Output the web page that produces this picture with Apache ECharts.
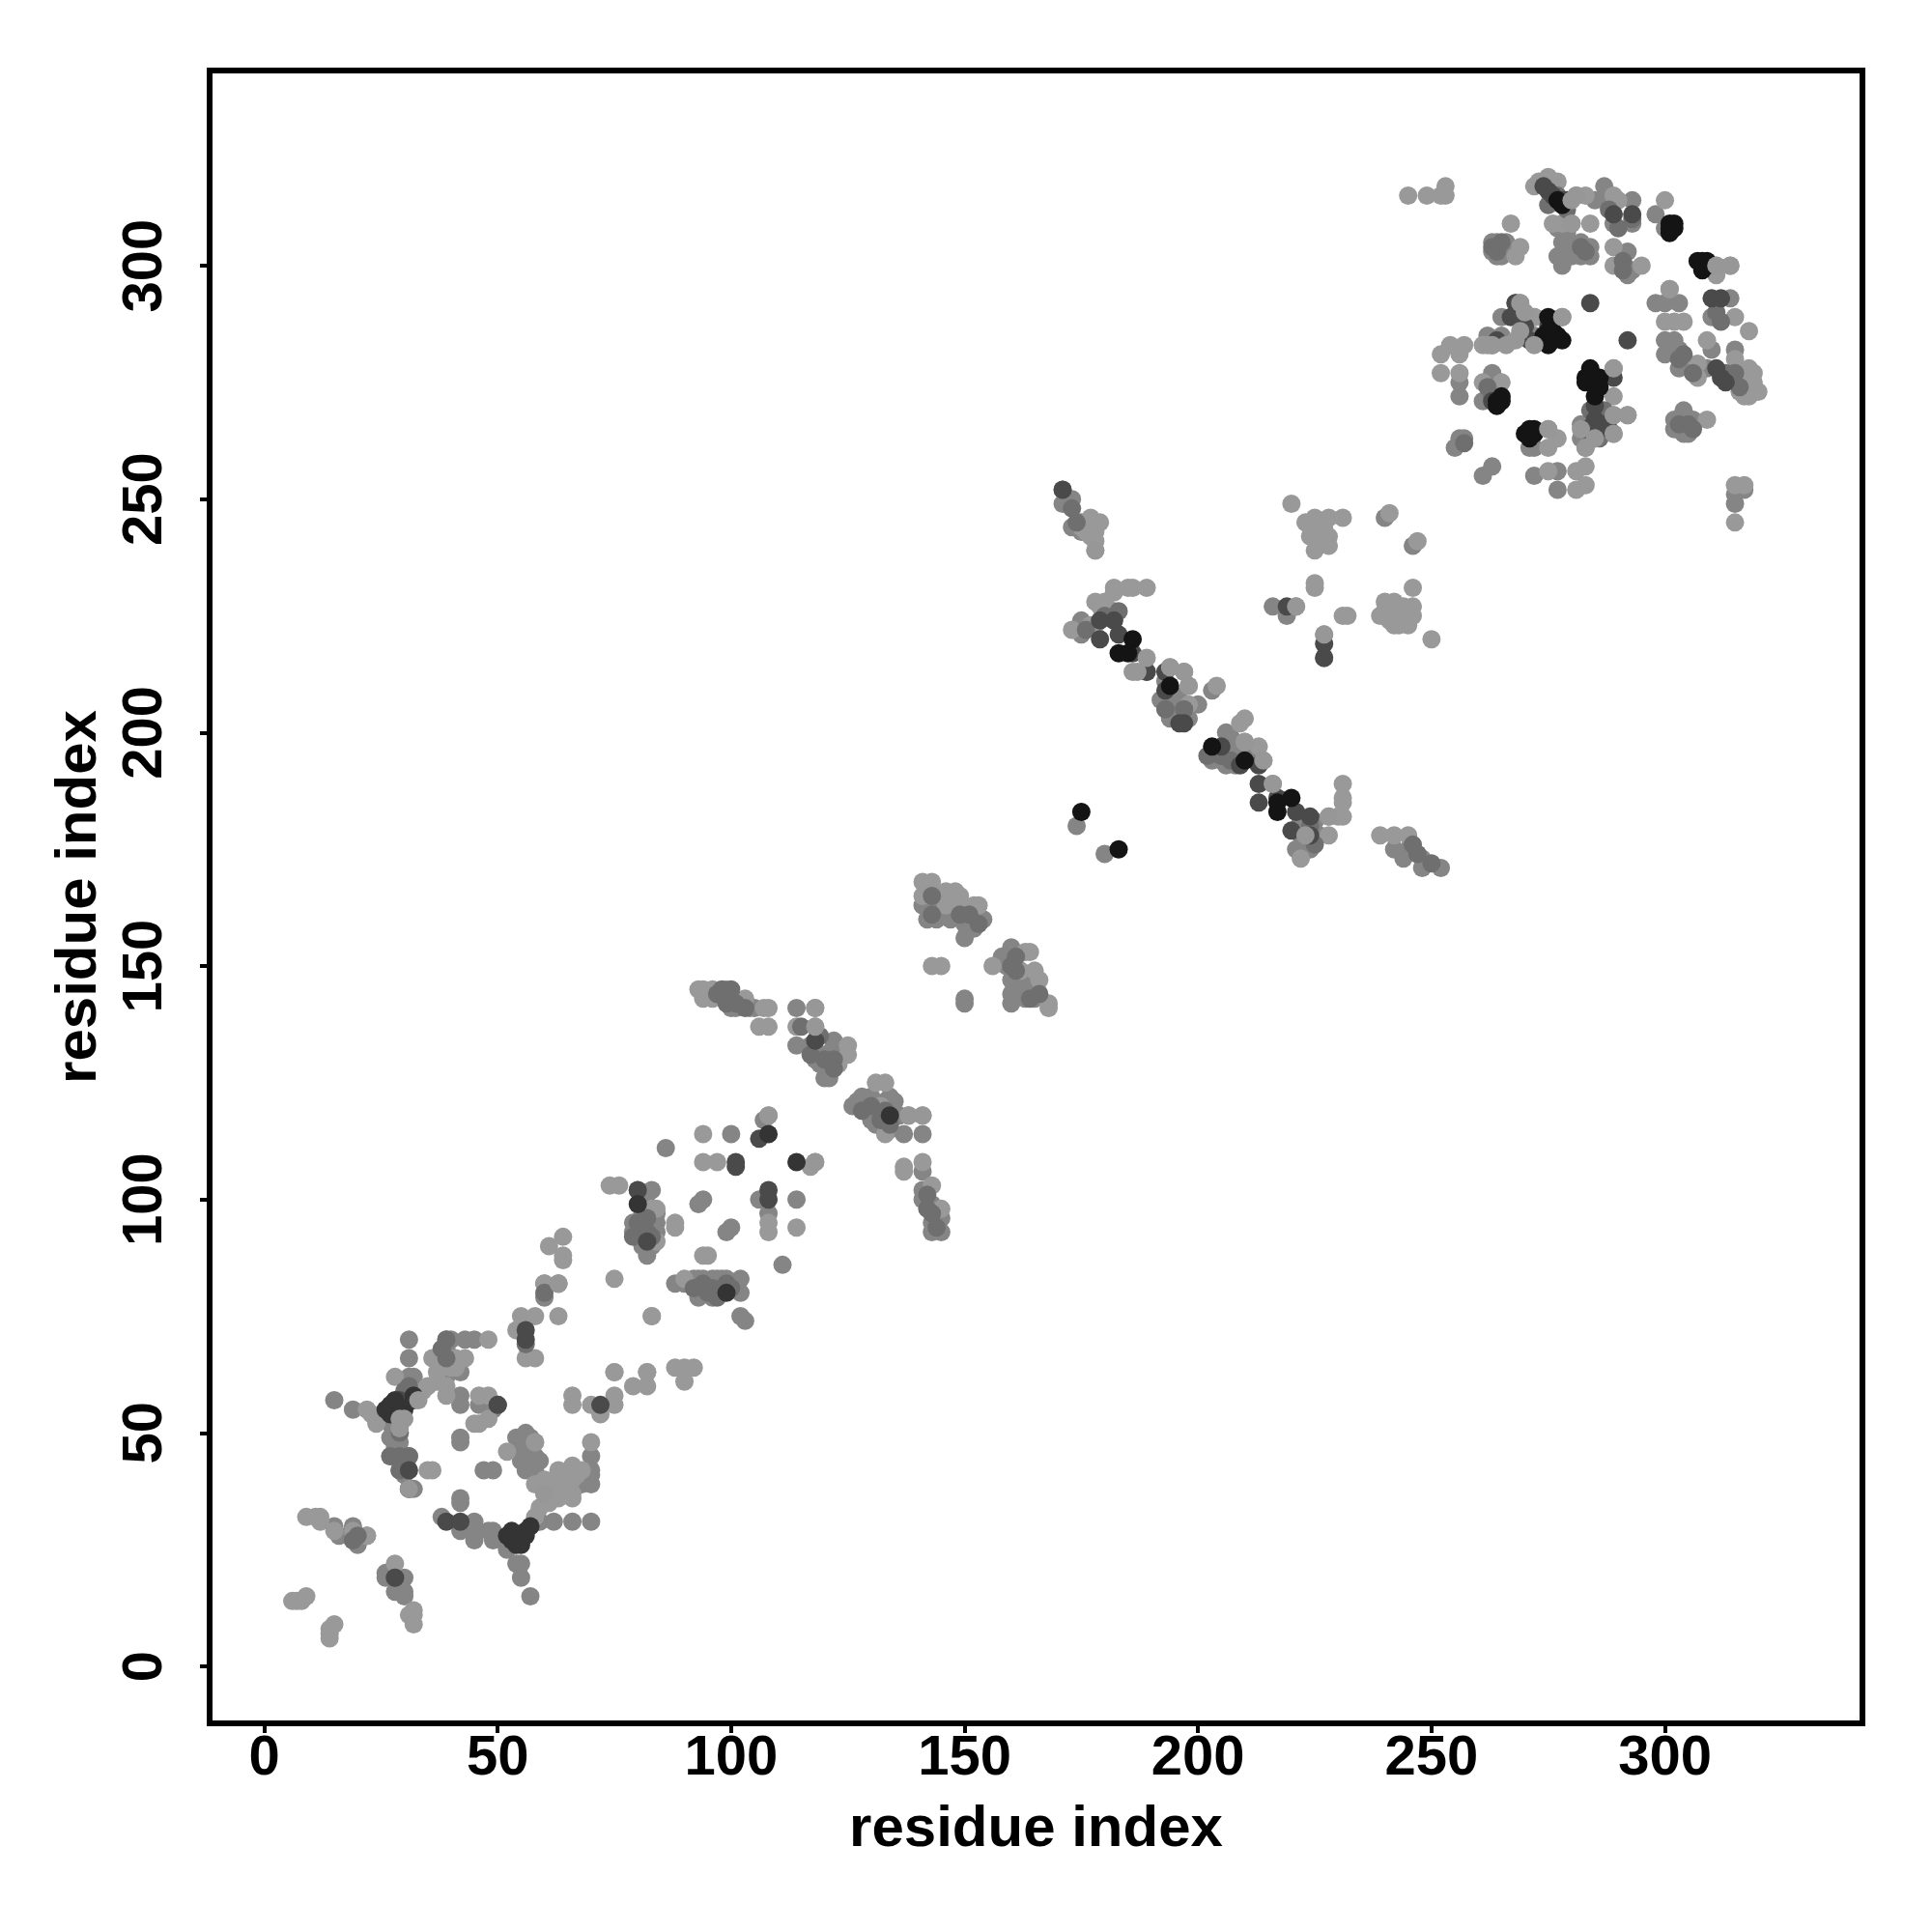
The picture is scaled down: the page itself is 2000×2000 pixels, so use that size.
<!DOCTYPE html>
<html>
<head>
<meta charset="utf-8">
<style>html,body{margin:0;padding:0;background:#fff}#c{width:2000px;height:2000px}</style>
<script src="https://cdn.jsdelivr.net/npm/echarts@6/dist/echarts.min.js"></script>
</head>
<body>
<div id="c"></div>
<script>
const tickValues = [0, 50, 100, 150, 200, 250, 300];
const xTitle = "residue index";
const yTitle = "residue index";

// residue pairs [x, y], grouped by grey level of the dot
const midDots = [
[26,20],[26,19],[30,19],[28,16],[30,16],[30,15],[18,28],[19,30],[19,28],[20,26],[19,27],[16,28],[15,30],[22,28],
[38,32],[42,29],[45,29],[45,31],[42,36],[42,35],[45,27],[48,29],[49,29],[49,27],[51,27],[52,25],[58,31],[59,31],[62,31],[66,31],[70,31],[55,22],[54,22],[55,19],[57,15],
[70,39],[68,39],[70,41],[70,42],[70,45],[58,42],[56,42],[58,45],[56,45],[54,49],[56,50],[27,49],[29,48],[27,45],[29,45],[31,45],[29,42],[31,38],[32,38],[31,70],[31,66],[31,62],[32,62],
[28,50],[28,47],[27,52],[28,45],[30,43],[30,41],[29,46],[55,47],[57,47],[57,46],[57,49],[55,44],[59,44],
[39,70],[39,68],[40,70],[43,70],[45,70],[38,66],[42,63],[39,62],[42,58],[42,56],[46,56],[50,56],[49,55],[19,55],[15,57],[42,48],[42,49],[47,42],[49,42],
[60,82],[60,79],[82,91],[82,88],[83,90],[79,95],[79,93],[84,95],[88,82],[92,83],[94,83],[96,83],[99,83],[102,83],[93,79],[96,79],[94,80],[97,81],[102,80],[102,75],[103,74],[111,86],[114,100],[94,100],[93,99],[100,94],[99,93],[86,111],[100,114],
[81,97],[84,97],[82,99],[83,94],[83,95],[81,90],[84,93],[80,94],[92,81],[93,83],[95,81],[96,82],[97,83],[98,83],[90,82],
[80,102],[83,102],[100,143],[100,141],[101,141],[104,141],[105,141],[114,141],[114,133],[118,132],[118,130],[122,134],[122,132],[120,126],[121,128],[121,126],[119,131],
[117,133],[120,131],[122,133],[119,129],[124,132],[131,120],[133,121],[135,118],[129,119],[131,116],[134,115],[135,121],
[126,120],[127,121],[128,122],[130,122],[134,122],[130,117],[131,118],[137,114],[141,114],[136,118],[138,118],[141,106],[141,102],[141,100],[143,99],[143,95],[145,96],[143,93],[145,93],[106,100],[108,97],[107,117],
[143,163],[141,163],[142,160],[144,160],[147,160],[150,159],[152,160],[154,160],[152,158],[150,156],[160,154],[158,152],[159,150],[160,147],[160,144],[160,142],[163,143],[165,143],[163,146],[164,144],[150,143],[150,142],
[171,252],[171,249],[173,250],[173,244],[175,245],[175,243],[182,226],[182,224],[175,224],[175,221],[189,213],[193,206],[194,203],[197,204],[200,206],[203,209],[203,194],[206,193],[206,200],[207,197],[174,180],[180,174],[224,175],[221,175],[244,173],[248,173],[248,171],[252,171],[245,175],[242,175],
[204,196],[205,194],[208,193],[209,195],[211,196],[207,199],[193,211],[196,207],[195,204],[198,203],[195,208],[192,207],[222,181],[225,181],[223,177],[226,178],[222,178],
[216,227],[227,216],[240,246],[246,240],[219,225],
[262,285],[265,285],[265,289],[269,292],[268,292],[272,285],[272,289],[261,271],[264,302],[264,305],[266,305],[265,302],[263,277],[263,257],[261,255],[272,255],[277,252],[277,256],[256,272],[256,275],[255,261],[256,263],[257,263],
[276,314],[278,305],[282,305],[284,304],[284,302],[282,302],[280,302],[285,314],[287,314],[287,317],[289,309],[289,311],[293,314],[293,309],[298,311],[292,303],[292,298],[293,299],[300,308],[298,292],[303,292],[300,292],[302,267],[304,269],[302,265],[304,264],[306,267],[305,264],[300,284],[302,284],[300,281],[303,282],[303,278],[305,279],[315,282],[310,289],[311,289],[314,293],[315,249],[315,251],[317,252],[282,266],[282,263],[285,263],[283,261],[271,261],[272,261],
[277,302],[279,304],[281,303],[277,308],[279,307],[278,300],[310,282],[309,278],[306,278],[263,303],[263,305],[264,303],[266,303]
];
const lightDots = [
[6,14],[7,14],[8,14],[9,15],[15,9],[14,8],[14,7],[14,6],[32,12],[31,11],[32,11],[32,9],[28,22],[9,32],[11,32],[12,32],[12,31],[15,29],[19,29],[22,28],
[35,42],[36,42],[36,66],[35,60],[34,59],[37,61],[39,58],[41,66],[43,66],[46,58],[48,58],[48,70],[45,52],[46,52],[48,53],
[38,64],[40,64],[41,64],[37,63],[39,60],[40,65],[60,38],[62,37],[63,42],[64,40],[62,40],[66,40],[67,41],[68,42],[61,36],[63,36],
[22,55],[23,54],[24,52],[29,53],[29,50],[28,62],
[59,34],[61,35],[61,38],[63,39],[63,41],[66,43],[66,37],[66,36],[65,39],[70,48],[58,39],[60,40],[60,37],[58,32],[52,46],[58,48],
[55,75],[58,75],[63,75],[54,72],[56,66],[58,66],[63,82],[64,87],[75,83],[83,75],[66,58],[66,56],[70,56],[75,63],[75,58],[75,56],[72,54],[79,60],[82,60],[82,63],[64,92],[64,88],[61,90],[60,82],[63,82],
[75,63],[82,63],[88,64],[90,64],[92,64],[90,61],
[74,103],[76,103],[83,98],[84,98],[84,91],[88,95],[88,94],[94,88],[95,88],[90,83],[83,75],
[93,145],[94,145],[96,145],[99,145],[94,143],[96,143],[103,143],[107,141],[108,141],[106,137],[108,137],[118,141],[114,137],[118,137],[125,133],[125,131],[123,129],
[131,125],[133,125],[132,120],[133,114],[141,118],[137,107],[137,106],[141,108],[143,103],[145,98],
[94,114],[94,108],[97,108],[108,118],[118,108],[117,107],[108,95],[108,93],[114,94],
[141,168],[143,168],[146,166],[148,166],[141,165],[146,163],[149,165],[149,163],[152,163],[153,163],[143,150],[145,150],
[156,150],[163,153],[164,153],[162,149],[165,149],[166,147],[168,142],[168,141],
[177,244],[179,245],[178,243],[178,239],[182,231],[185,231],[186,231],[189,231],[182,230],[178,228],[179,227],[173,222],
[176,243],[177,242],[178,241],[178,245],[177,246],[175,244],[180,228],[181,225],[177,223],[178,223],
[194,214],[197,213],[198,210],[198,206],[204,210],[210,203],[209,202],[210,198],[213,197],[214,194],[216,189],[228,182],[230,182],[231,182],[228,178],[231,186],[231,185],[231,189],[222,173],[224,178],
[239,178],[242,178],[245,178],
[220,249],[223,245],[225,246],[228,246],[231,246],[224,242],[225,242],[228,242],[225,239],[228,240],[241,247],[247,241],[225,231],[225,232],[221,227],[227,221],[231,225],[232,225],
[226,243],[227,244],[226,241],[227,241],[224,244],[226,245],
[246,231],[240,228],[242,228],[246,227],[239,225],[242,224],[245,223],[246,225],[250,220],[242,223],
[241,226],[243,226],[244,225],[241,224],[244,227],[243,223],[245,225],[240,226],
[245,315],[249,315],[252,315],[253,317],[253,315],
[272,317],[273,318],[275,319],[277,318],[280,309],[278,309],[276,309],[284,309],[281,315],[283,315],[290,314],[289,315],[300,314],[267,309],[269,304],[268,302],
[289,304],[289,300],[290,300],[295,300],
[278,289],[272,289],[269,289],[261,283],[269,285],[254,283],[257,283],[252,281],[256,281],[252,277],[256,277],[261,275],[265,275],
[289,278],[289,272],[285,268],[289,268],[292,268],[289,264],[275,265],[277,263],[275,261],[275,256],[281,256],[283,257],[281,252],[283,253],
[301,295],[304,288],[302,288],[300,288],[309,284],[307,279],[307,276],[311,300],[314,300],[311,298],[315,289],[318,286],[315,280],[318,276],[319,275],[318,272],[320,273],[309,267],[315,245],[315,253],[317,253],
[316,276],[317,274],[318,278],[317,272],[316,273],[319,277],[318,275]
];
const dimDots = [
[28,19],[19,27],[20,28],[27,45],[29,45],[29,42],[31,38],[31,45],[29,50],[30,59],[31,60],[39,70],[38,68],[39,66],[50,56],[56,69],[60,80],[79,92],[80,95],[82,93],[82,96],[83,92],
[92,81],[94,82],[96,81],[99,82],[95,80],[97,79],[100,81],[98,145],[100,145],[97,144],[99,142],[101,142],[103,141],
[115,137],[119,135],[117,131],[120,130],[122,130],[122,128],[128,119],[130,120],[133,119],[132,117],[134,116],[142,101],[143,97],[144,94],[142,98],
[143,165],[143,161],[149,161],[151,161],[153,159],[161,152],[160,150],[161,149],[164,143],[166,144],
[173,248],[174,245],[176,222],[180,225],[183,226],[193,205],[197,205],[202,195],[205,195],[207,194],[224,180],[225,176],[246,176],[247,174],[250,172],
[264,303],[263,304],[265,305],[263,283],[275,313],[277,315],[279,312],[288,312],[293,310],[290,308],[283,303],[282,304],[291,301],[291,299],
[303,280],[304,281],[306,277],[303,266],[305,266],[306,265],[315,277],[313,277],[316,274],[312,288],[311,290],[286,263],[284,265],[286,266],[284,269],[287,269],[263,272],[262,274],[257,262]
];
const darkDots = [
[28,19],[39,31],[42,31],[31,42],[29,57],[50,56],[72,56],[56,72],[56,70],[80,102],[82,91],[101,107],[101,108],[106,113],[108,102],[108,100],[118,134],[171,252],
[179,224],[179,220],[182,224],[183,221],[186,217],[189,213],[193,213],[193,209],[197,202],[196,202],[205,197],[209,193],[213,193],[213,189],[213,185],[217,186],[221,183],[220,179],[224,182],[224,178],
[219,227],[227,219],[227,216],[293,311],[289,311],[285,267],[288,265],[289,276],[263,271],[268,292],[284,292],[292,284],[311,278],[312,276],[313,275],[312,293],[310,293],[264,270],
[275,316],[276,315],[278,314],[279,314],[274,317],[285,270],[283,265],[287,266],[270,287],[271,284],[264,284],[267,289],[275,287]
];
const charcoalDots = [
[28,57],[26,55],[30,55],[27,54],[32,58],[32,57],[29,55],[27,56],[28,55],[29,54],[52,28],[54,28],[54,27],[56,29],[57,30],[55,26],[53,27],[56,28],[54,26],[55,28],[53,29],
[80,99],[99,80],[134,118],[114,108],[108,114]
];
const nearBlackDots = [
[175,183],[183,175],[186,220],[183,217],[185,217],[194,210],[203,197],[210,194],[220,186],[217,183],[217,185],
[302,309],[301,308],[301,309],[302,308],[301,307],[309,301],[308,301],[308,299],[308,300],[309,300],[307,301],
[274,285],[276,286],[278,284],[276,284],[275,285],[275,289],[274,284],[275,283],[277,285],[275,286],
[284,278],[283,276],[286,276],[285,274],[284,277],[285,275],[283,275],[286,274],[285,272],
[265,271],[264,270],[264,271],[265,272],[270,264],[272,265],[271,263],[272,264],[271,265],[277,314],[278,313]
];
const frontDots = [
[29,53],[30,53],[29,51],[33,57],[31,38],[58,48],[63,82],[108,118],[118,108],[178,239],[189,216],[187,213],[186,213],[194,214],[197,213],[198,210],[210,198],[214,194],[216,189],[221,227],[227,221],[223,178],
[228,182],[280,314],[281,315],[278,289],[269,292],[289,278],[292,268],[289,268],[285,263],[283,261],[282,265],[289,264],[275,265],[311,300],[314,300],[280,309],[301,295],[60,37],[118,141],[141,118],[138,118],[118,137],
[269,286],[266,283],[263,283],[272,283],[270,290],[268,284],[262,283]
];

const greyLevels = [
  {name: "mid", data: midDots, color: "#858585"},
  {name: "light", data: lightDots, color: "#999999"},
  {name: "dim", data: dimDots, color: "#6f6f6f"},
  {name: "dark", data: darkDots, color: "#4a4a4a"},
  {name: "charcoal", data: charcoalDots, color: "#343434"},
  {name: "nearBlack", data: nearBlackDots, color: "#141414"},
  {name: "front", data: frontDots, color: "#979797"}
];

const chart = echarts.init(document.getElementById("c"), null, {renderer: "canvas"});
const tickFont = {fontFamily: "Liberation Sans", fontWeight: "bold", fontSize: 58, color: "#000"};
const titleFont = {fontFamily: "Liberation Sans", fontWeight: "bold", fontSize: 60, color: "#000"};
const mkAxis = (title, gap, rotate, margin, min, max) => ({
  type: "value", min, max,
  name: title, nameLocation: "middle", nameGap: gap, nameMoveOverlap: false,
  nameTextStyle: titleFont,
  splitLine: {show: false},
  axisLine: {show: false, onZero: false},
  axisTick: {show: true, length: 10, customValues: tickValues, lineStyle: {color: "#000", width: 4}},
  axisLabel: Object.assign({show: true, rotate, margin, customValues: tickValues, hideOverlap: false}, tickFont)
});
chart.setOption({
  animation: false,
  backgroundColor: "#fff",
  grid: {left: 217, top: 73, width: 1711, height: 1711, show: true, borderColor: "#000", borderWidth: 6, backgroundColor: "transparent"},
  xAxis: mkAxis(xTitle, 80, 0, 8, -11.7, 342.3),
  yAxis: mkAxis(yTitle, 105, 90, 37, -12.2, 341.8),
  series: greyLevels.map(g => ({
    type: "scatter", name: g.name, data: g.data, symbol: "circle", symbolSize: 19,
    itemStyle: {color: g.color, opacity: 1}, silent: true, large: false, clip: false
  }))
});
</script>
</body>
</html>
